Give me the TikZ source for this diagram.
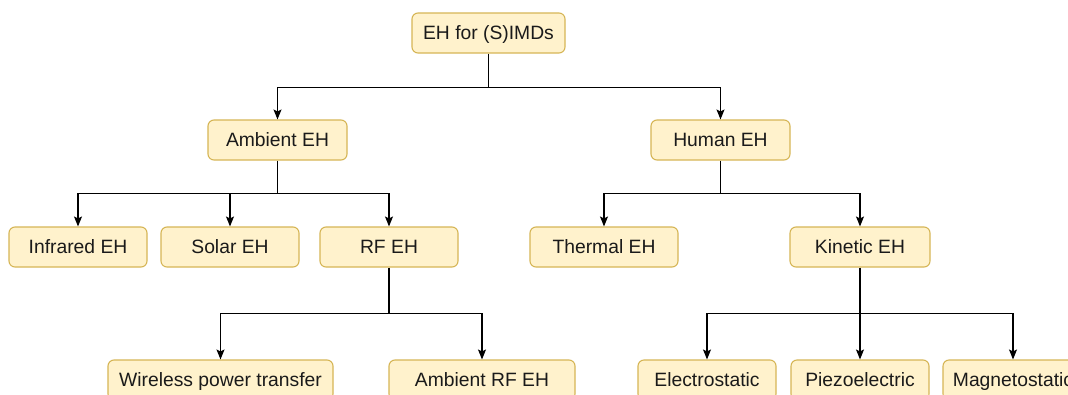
\documentclass[tikz,border=0pt]{standalone}
\usepackage{fontspec}
\setmainfont{Liberation Sans}
\usetikzlibrary{arrows.meta}
\definecolor{boxfill}{HTML}{FFF2CC}
\definecolor{boxdraw}{HTML}{D6B656}
\definecolor{txt}{HTML}{1A1A1A}
\begin{document}
\begin{tikzpicture}[x=1pt,y=-1pt,
  box/.style={draw=boxdraw, fill=boxfill, rounded corners=6pt, line width=1.1pt,
    minimum height=40pt, inner sep=0pt, text=txt, text height=15pt, text depth=3pt,
    font=\fontsize{19.3}{23}\selectfont},
  ln/.style={line width=1.1pt},
  arr/.style={-{Stealth[length=10pt,width=8pt,inset=2pt]}, line width=1.1pt}]
\clip (0,0) rectangle (1068,394);
\fill[white] (0,0) rectangle (1068,394);
\node[box, minimum width=153pt] (top) at (488.5,33) {EH for (S)IMDs};
\node[box, minimum width=139pt] (amb) at (277.5,140) {Ambient EH};
\node[box, minimum width=139pt] (hum) at (720.5,140) {Human EH};
\node[box, minimum width=138pt] (ir) at (78,247) {Infrared EH};
\node[box, minimum width=138pt] (sol) at (230,247) {Solar EH};
\node[box, minimum width=138pt] (rf) at (389,247) {RF EH};
\node[box, minimum width=148pt] (th) at (604,247) {Thermal EH};
\node[box, minimum width=140pt] (kin) at (860,247) {Kinetic EH};
\node[box, minimum width=225pt] (wpt) at (220.5,380) {Wireless power transfer};
\node[box, minimum width=186pt] (arf) at (482,380) {Ambient RF EH};
\node[box, minimum width=138pt] (es) at (707,380) {Electrostatic};
\node[box, minimum width=138pt] (pz) at (860,380) {Piezoelectric};
\node[box, minimum width=140pt] (ms) at (1013,380) {Magnetostatic};

\path (top.south) -- ++(0,34) coordinate (j1);
\path (amb.south) -- ++(0,33) coordinate (j2);
\path (hum.south) -- ++(0,33) coordinate (j3);
\path (rf.south) -- ++(0,46) coordinate (j4);
\path (kin.south) -- ++(0,46) coordinate (j5);

\draw[ln] (top.south) -- (j1);
\draw[arr] (j1) -| (amb.north);
\draw[arr] (j1) -| (hum.north);

\draw[ln] (amb.south) -- (j2);
\draw[arr] (j2) -| (ir.north);
\draw[arr] (j2) -| (sol.north);
\draw[arr] (j2) -| (rf.north);

\draw[ln] (hum.south) -- (j3);
\draw[arr] (j3) -| (th.north);
\draw[arr] (j3) -| (kin.north);

\draw[ln] (rf.south) -- (j4);
\draw[arr] (j4) -| (wpt.north);
\draw[arr] (j4) -| (arf.north);

\draw[ln] (kin.south) -- (j5);
\draw[arr] (j5) -| (es.north);
\draw[arr] (j5) -- (pz.north);
\draw[arr] (j5) -| (ms.north);
\end{tikzpicture}
\end{document}
